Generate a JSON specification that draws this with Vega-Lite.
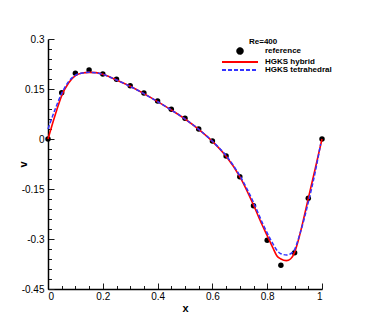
{
  "$schema": "https://vega.github.io/schema/vega-lite/v6.json",
  "width": 274,
  "height": 250,
  "autosize": "none",
  "padding": {"left": 48, "top": 39, "right": 44, "bottom": 37},
  "config": {
    "view": {"stroke": null},
    "font": "Liberation Sans",
    "axis": {"grid": false}
  },
  "data": {
    "values": [
      {"series": "reference", "x": 0, "v": 0},
      {"series": "reference", "x": 0.05, "v": 0.139},
      {"series": "reference", "x": 0.1, "v": 0.197},
      {"series": "reference", "x": 0.15, "v": 0.207},
      {"series": "reference", "x": 0.2, "v": 0.195},
      {"series": "reference", "x": 0.25, "v": 0.179},
      {"series": "reference", "x": 0.3, "v": 0.16},
      {"series": "reference", "x": 0.35, "v": 0.138},
      {"series": "reference", "x": 0.4, "v": 0.114},
      {"series": "reference", "x": 0.45, "v": 0.089},
      {"series": "reference", "x": 0.5, "v": 0.062},
      {"series": "reference", "x": 0.55, "v": 0.03},
      {"series": "reference", "x": 0.6, "v": -0.006},
      {"series": "reference", "x": 0.65, "v": -0.051},
      {"series": "reference", "x": 0.7, "v": -0.113},
      {"series": "reference", "x": 0.75, "v": -0.2},
      {"series": "reference", "x": 0.8, "v": -0.304},
      {"series": "reference", "x": 0.85, "v": -0.379},
      {"series": "reference", "x": 0.9, "v": -0.341},
      {"series": "reference", "x": 0.95, "v": -0.178},
      {"series": "reference", "x": 1, "v": 0},

      {"series": "HGKS hybrid", "x": 0, "v": 0},
      {"series": "HGKS hybrid", "x": 0.015, "v": 0.042},
      {"series": "HGKS hybrid", "x": 0.032, "v": 0.087},
      {"series": "HGKS hybrid", "x": 0.05, "v": 0.13},
      {"series": "HGKS hybrid", "x": 0.075, "v": 0.168},
      {"series": "HGKS hybrid", "x": 0.1, "v": 0.19},
      {"series": "HGKS hybrid", "x": 0.125, "v": 0.198},
      {"series": "HGKS hybrid", "x": 0.15, "v": 0.2},
      {"series": "HGKS hybrid", "x": 0.175, "v": 0.199},
      {"series": "HGKS hybrid", "x": 0.2, "v": 0.194},
      {"series": "HGKS hybrid", "x": 0.25, "v": 0.177},
      {"series": "HGKS hybrid", "x": 0.3, "v": 0.158},
      {"series": "HGKS hybrid", "x": 0.35, "v": 0.136},
      {"series": "HGKS hybrid", "x": 0.4, "v": 0.112},
      {"series": "HGKS hybrid", "x": 0.45, "v": 0.087},
      {"series": "HGKS hybrid", "x": 0.5, "v": 0.06},
      {"series": "HGKS hybrid", "x": 0.55, "v": 0.029},
      {"series": "HGKS hybrid", "x": 0.6, "v": -0.007},
      {"series": "HGKS hybrid", "x": 0.65, "v": -0.052},
      {"series": "HGKS hybrid", "x": 0.7, "v": -0.113},
      {"series": "HGKS hybrid", "x": 0.75, "v": -0.198},
      {"series": "HGKS hybrid", "x": 0.78, "v": -0.255},
      {"series": "HGKS hybrid", "x": 0.8, "v": -0.29},
      {"series": "HGKS hybrid", "x": 0.82, "v": -0.325},
      {"series": "HGKS hybrid", "x": 0.835, "v": -0.35},
      {"series": "HGKS hybrid", "x": 0.85, "v": -0.36},
      {"series": "HGKS hybrid", "x": 0.87, "v": -0.365},
      {"series": "HGKS hybrid", "x": 0.885, "v": -0.36},
      {"series": "HGKS hybrid", "x": 0.9, "v": -0.34},
      {"series": "HGKS hybrid", "x": 0.915, "v": -0.3},
      {"series": "HGKS hybrid", "x": 0.932, "v": -0.243},
      {"series": "HGKS hybrid", "x": 0.95, "v": -0.178},
      {"series": "HGKS hybrid", "x": 0.975, "v": -0.09},
      {"series": "HGKS hybrid", "x": 1, "v": 0},

      {"series": "HGKS tetrahedral", "x": 0, "v": 0.03},
      {"series": "HGKS tetrahedral", "x": 0.025, "v": 0.087},
      {"series": "HGKS tetrahedral", "x": 0.05, "v": 0.137},
      {"series": "HGKS tetrahedral", "x": 0.075, "v": 0.172},
      {"series": "HGKS tetrahedral", "x": 0.1, "v": 0.191},
      {"series": "HGKS tetrahedral", "x": 0.125, "v": 0.198},
      {"series": "HGKS tetrahedral", "x": 0.15, "v": 0.2},
      {"series": "HGKS tetrahedral", "x": 0.175, "v": 0.199},
      {"series": "HGKS tetrahedral", "x": 0.2, "v": 0.194},
      {"series": "HGKS tetrahedral", "x": 0.25, "v": 0.177},
      {"series": "HGKS tetrahedral", "x": 0.3, "v": 0.158},
      {"series": "HGKS tetrahedral", "x": 0.35, "v": 0.136},
      {"series": "HGKS tetrahedral", "x": 0.4, "v": 0.112},
      {"series": "HGKS tetrahedral", "x": 0.45, "v": 0.087},
      {"series": "HGKS tetrahedral", "x": 0.5, "v": 0.06},
      {"series": "HGKS tetrahedral", "x": 0.55, "v": 0.029},
      {"series": "HGKS tetrahedral", "x": 0.6, "v": -0.007},
      {"series": "HGKS tetrahedral", "x": 0.65, "v": -0.05},
      {"series": "HGKS tetrahedral", "x": 0.7, "v": -0.11},
      {"series": "HGKS tetrahedral", "x": 0.75, "v": -0.19},
      {"series": "HGKS tetrahedral", "x": 0.786, "v": -0.258},
      {"series": "HGKS tetrahedral", "x": 0.81, "v": -0.298},
      {"series": "HGKS tetrahedral", "x": 0.847, "v": -0.343},
      {"series": "HGKS tetrahedral", "x": 0.871, "v": -0.348},
      {"series": "HGKS tetrahedral", "x": 0.895, "v": -0.338},
      {"series": "HGKS tetrahedral", "x": 0.92, "v": -0.283},
      {"series": "HGKS tetrahedral", "x": 0.95, "v": -0.19},
      {"series": "HGKS tetrahedral", "x": 0.975, "v": -0.1},
      {"series": "HGKS tetrahedral", "x": 0.995, "v": -0.015}
    ]
  },
  "encoding": {
    "x": {
      "field": "x", "type": "quantitative",
      "scale": {"domain": [0, 1], "nice": false, "zero": false},
      "axis": {
        "values": [0, 0.05, 0.1, 0.15, 0.2, 0.25, 0.3, 0.35, 0.4, 0.45, 0.5, 0.55, 0.6, 0.65, 0.7, 0.75, 0.8, 0.85, 0.9, 0.95, 1],
        "labelExpr": "abs(datum.value / 0.2 - round(datum.value / 0.2)) < 1e-6 ? '' + datum.value : ''",
        "title": "x", "orient": "bottom",
        "ticks": true,
        "tickSize": {"expr": "abs(datum.value / 0.2 - round(datum.value / 0.2)) < 1e-6 ? -6 : -3.5"},
        "tickColor": "#1a1a1a", "tickWidth": 1, "tickOpacity": 1,
        "domainColor": "#000000", "domainWidth": 1.5,
        "labelFontSize": 10, "labelColor": "#000000", "labelPadding": 8, "labelOverlap": false,
        "titleFontSize": 11, "titleFontWeight": "bold", "titleColor": "#000000", "titlePadding": -1
      }
    },
    "y": {
      "field": "v", "type": "quantitative",
      "scale": {"domain": [-0.45, 0.3], "nice": false, "zero": false},
      "axis": {
        "values": [-0.45, -0.42, -0.39, -0.36, -0.33, -0.3, -0.27, -0.24, -0.21, -0.18, -0.15, -0.12, -0.09, -0.06, -0.03, 0, 0.03, 0.06, 0.09, 0.12, 0.15, 0.18, 0.21, 0.24, 0.27, 0.3],
        "labelExpr": "abs(datum.value / 0.15 - round(datum.value / 0.15)) < 1e-6 ? '' + datum.value : ''",
        "title": "v", "orient": "left",
        "ticks": true,
        "tickSize": {"expr": "abs(datum.value / 0.15 - round(datum.value / 0.15)) < 1e-6 ? -6 : -3.5"},
        "tickColor": "#1a1a1a", "tickWidth": 1, "tickOpacity": 1,
        "domainColor": "#000000", "domainWidth": 1.5,
        "labelFontSize": 10, "labelColor": "#000000", "labelPadding": 10, "labelOverlap": false,
        "titleFontSize": 11, "titleFontWeight": "bold", "titleColor": "#000000", "titlePadding": -7
      }
    },
    "color": {
      "field": "series",
      "type": "nominal",
      "scale": {"domain": ["reference", "HGKS hybrid", "HGKS tetrahedral"], "range": ["#000000", "#ff0000", "#3333ff"]},
      "legend": {
        "orient": "none",
        "legendX": 173,
        "legendY": -1,
        "title": "Re=400",
        "titleFont": "Liberation Sans",
        "titleFontSize": 8,
        "titleFontWeight": "bold",
        "titleColor": "#000000",
        "titlePadding": 1,
        "labelFont": "Liberation Sans",
        "labelFontSize": 8,
        "labelFontWeight": "bold",
        "labelColor": "#000000",
        "labelOffset": 21,
        "symbolType": "circle",
        "symbolSize": 36,
        "symbolOffset": 15,
        "rowPadding": 0,
        "padding": 0,
        "encode": {
          "title": {"update": {"dx": {"value": 28}}},
          "symbols": {
            "update": {
              "shape": {"signal": "datum.value === 'reference' ? 'circle' : 'M-6,0H6'"},
              "size": {"signal": "datum.value === 'reference' ? 30 : 36"},
              "fill": {"signal": "datum.value === 'reference' ? '#000000' : 'transparent'"},
              "stroke": {"signal": "datum.value === 'reference' ? 'transparent' : (datum.value === 'HGKS hybrid' ? '#ff0000' : '#3333ff')"},
              "strokeDash": {"signal": "datum.value === 'HGKS tetrahedral' ? [4, 2] : [1, 0]"},
              "strokeWidth": {"value": 2},
              "opacity": {"value": 1}
            }
          }
        }
      }
    }
  },
  "layer": [
    {
      "transform": [{"filter": "datum.series === 'reference'"}],
      "mark": {"type": "point", "filled": true, "size": 30, "opacity": 1}
    },
    {
      "transform": [{"filter": "datum.series === 'HGKS hybrid'"}],
      "mark": {"type": "line", "strokeWidth": 1.6, "interpolate": "monotone"}
    },
    {
      "transform": [{"filter": "datum.series === 'HGKS tetrahedral'"}],
      "mark": {"type": "line", "strokeWidth": 1.5, "strokeDash": [4, 2], "interpolate": "monotone"}
    }
  ]
}
